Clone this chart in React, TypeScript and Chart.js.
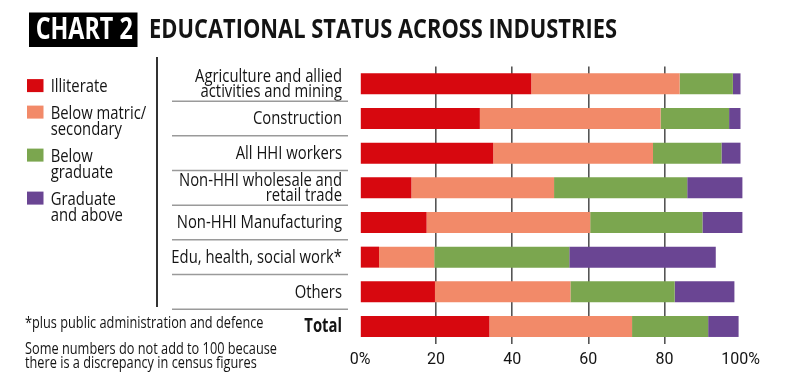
import { useEffect, useRef } from "react";
import { Chart, registerables } from "chart.js";
Chart.register(...registerables);

const categories: string[][] = [
  ["Agriculture and allied", "activities and mining"],
  ["Construction"],
  ["All HHI workers"],
  ["Non-HHI wholesale and", "retail trade"],
  ["Non-HHI Manufacturing"],
  ["Edu, health, social work*"],
  ["Others"],
  ["Total"],
];
const seriesNames = ["Illiterate", "Below matric/secondary", "Below graduate", "Graduate and above"];
const legendLines: string[][] = [["Illiterate"], ["Below matric/", "secondary"], ["Below", "graduate"], ["Graduate", "and above"]];
const seriesColors = ["#d7080f", "#f28a69", "#7ba64f", "#6a4593"];

const illiterate = [45, 31.5, 35, 13.5, 17.5, 5, 19.7, 34];
const belowMatric = [39, 47.5, 42, 37.5, 43, 14.5, 35.6, 37.5];
const belowGraduate = [14, 18, 18, 35, 29.5, 35.5, 27.4, 20];
const graduateAbove = [2, 3, 5, 14.5, 10.5, 38.5, 15.7, 8];
const seriesValues = [illiterate, belowMatric, belowGraduate, graduateAbove];

const xTickValues = [0, 20, 40, 60, 80, 100];
const titleBadge = "CHART 2";
const titleText = "EDUCATIONAL STATUS ACROSS INDUSTRIES";
const footnote = "*plus public administration and defence";
const noteLines = ["Some numbers do not add to 100 because", "there is a discrepancy in census figures"];

const BODY = "'Open Sans', 'DejaVu Sans', sans-serif";
const INK = "#141414";

function drawText(ctx: CanvasRenderingContext2D, text: string, x: number, y: number, align: CanvasTextAlign, k: number) {
  ctx.save();
  ctx.translate(x, y);
  ctx.scale(k, 1);
  ctx.textAlign = align;
  ctx.textBaseline = "alphabetic";
  ctx.fillText(text, 0, 0);
  ctx.restore();
}

const decorPlugin = {
  id: "decor",
  afterDraw(chart: any) {
    const ctx: CanvasRenderingContext2D = chart.ctx;
    const yScale = chart.scales.y;
    ctx.save();

    // Title badge
    ctx.fillStyle = "#000";
    ctx.fillRect(29, 12.5, 108.5, 34.5);
    ctx.font = `bold 31px ${BODY}`;
    let k = 97 / ctx.measureText(titleBadge).width;
    ctx.fillStyle = "#fff";
    drawText(ctx, titleBadge, 35.7, 39.3, "left", k);
    ctx.font = `bold 27px ${BODY}`;
    k = 468 / ctx.measureText(titleText).width;
    ctx.fillStyle = INK;
    drawText(ctx, titleText, 149, 38.3, "left", k);

    // label font compression
    ctx.font = `19px ${BODY}`;
    const kLab = 89 / ctx.measureText("Construction").width;

    // Legend
    let base = 92.3;
    legendLines.forEach((lines, i) => {
      ctx.fillStyle = seriesColors[i];
      ctx.fillRect(27, base - 6.7 - 6.5, 16.5, 13);
      ctx.fillStyle = INK;
      ctx.font = `19px ${BODY}`;
      lines.forEach((ln, j) => drawText(ctx, ln, 50.7, base + j * 16.5, "left", kLab));
      base += lines.length * 16.5 + 10;
    });

    // Vertical divider
    ctx.strokeStyle = "#333";
    ctx.lineWidth = 2;
    ctx.beginPath();
    ctx.moveTo(157, 57);
    ctx.lineTo(157, 307);
    ctx.stroke();

    // Category labels and separators
    const n = categories.length;
    categories.forEach((lines, i) => {
      const c = yScale.getPixelForValue(i);
      const isTotal = i === n - 1;
      ctx.font = `${isTotal ? "bold " : ""}19px ${BODY}`;
      ctx.fillStyle = INK;
      const lh = 15.4;
      const first = c + 5.8 - ((lines.length - 1) * lh) / 2;
      lines.forEach((ln, j) => drawText(ctx, ln, 342, first + j * lh, "right", kLab));
      if (i < n - 1) {
        const yb = (c + yScale.getPixelForValue(i + 1)) / 2;
        ctx.strokeStyle = "#9a9a9a";
        ctx.lineWidth = 1.5;
        ctx.beginPath();
        ctx.moveTo(172, yb);
        ctx.lineTo(348, yb);
        ctx.stroke();
      }
    });

    // Footnotes
    ctx.font = `15.5px ${BODY}`;
    ctx.fillStyle = INK;
    const kNote = 252 / ctx.measureText(noteLines[0]).width;
    drawText(ctx, footnote, 25, 328, "left", kNote);
    noteLines.forEach((ln, j) => drawText(ctx, ln, 25, 354 + j * 14.3, "left", kNote));

    ctx.restore();
  },
};

export default function App() {
  const ref = useRef<HTMLCanvasElement | null>(null);
  useEffect(() => {
    if (!ref.current) return;
    const chart = new Chart(ref.current, {
      type: "bar",
      data: {
        labels: categories.map((c) => c.join(" ")),
        datasets: seriesNames.map((name, i) => ({
          label: name,
          data: seriesValues[i],
          backgroundColor: seriesColors[i],
          borderWidth: 0,
          barPercentage: 0.605,
          categoryPercentage: 1,
          clip: false as any,
        })),
      },
      options: {
        responsive: false,
        animation: false,
        indexAxis: "y",
        layout: { padding: { top: 66.5, right: 59.5, bottom: 0, left: 0 } },
        plugins: { legend: { display: false }, tooltip: { enabled: false } },
        scales: {
          x: {
            stacked: true,
            min: 0,
            max: 100,
            afterBuildTicks: (s: any) => {
              s.ticks = xTickValues.map((v) => ({ value: v }));
            },
            border: { display: false },
            grid: {
              drawTicks: false,
              lineWidth: 1.6,
              color: (c: any) =>
                c.tick && (c.tick.value === 0 || c.tick.value === 100) ? "rgba(0,0,0,0)" : "#555",
            },
            ticks: {
              padding: 7,
              color: INK,
              font: { family: "Roboto, 'DejaVu Sans', sans-serif", size: 16 },
              callback: (v: any) => (v === 0 || v === 100 ? `${v}%` : String(v)),
            },
            afterFit: (s: any) => {
              s.height = 34.2;
            },
          },
          y: {
            stacked: true,
            grid: { display: false },
            border: { display: false },
            ticks: { display: false },
            afterFit: (s: any) => {
              s.width = 360;
            },
          },
        },
      } as any,
      plugins: [decorPlugin],
    });
    return () => chart.destroy();
  }, []);
  return (
    <div style={{ position: "absolute", left: 0, top: 0, width: 800, height: 378, background: "#fff" }}>
      <canvas ref={ref} width={800} height={378} style={{ display: "block" }} />
    </div>
  );
}
